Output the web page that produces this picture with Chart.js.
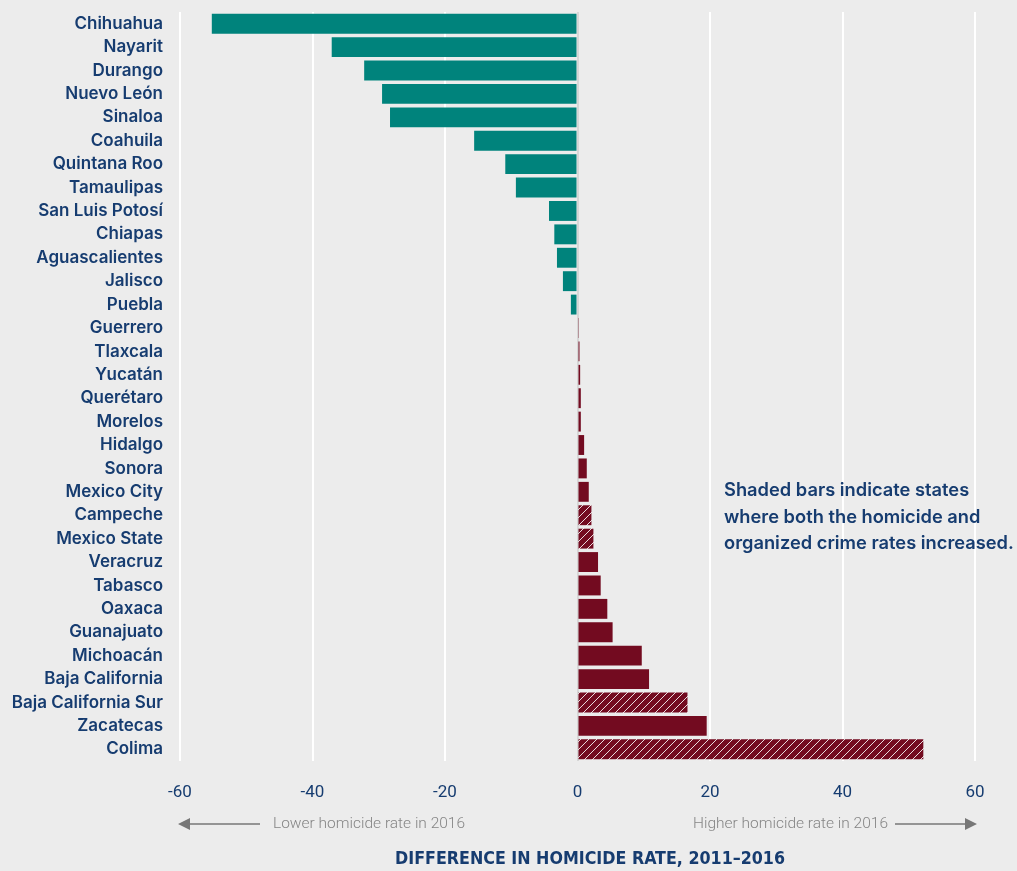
<!DOCTYPE html>
<html>
<head>
<meta charset="utf-8">
<script src="https://cdn.jsdelivr.net/npm/chart.js@4"></script>
<style>
  html, body { margin: 0; padding: 0; background: #ececec; }
  #wrap { width: 1017px; height: 871px; position: relative; }
</style>
</head>
<body>
<div id="wrap"><canvas id="chart"></canvas></div>
<script>
var states = [
  'Chihuahua', 'Nayarit', 'Durango', 'Nuevo León', 'Sinaloa', 'Coahuila',
  'Quintana Roo', 'Tamaulipas', 'San Luis Potosí', 'Chiapas', 'Aguascalientes',
  'Jalisco', 'Puebla', 'Guerrero', 'Tlaxcala', 'Yucatán', 'Querétaro',
  'Morelos', 'Hidalgo', 'Sonora', 'Mexico City', 'Campeche', 'Mexico State',
  'Veracruz', 'Tabasco', 'Oaxaca', 'Guanajuato', 'Michoacán', 'Baja California',
  'Baja California Sur', 'Zacatecas', 'Colima'
];
var diff = [
  -55.2, -37.1, -32.2, -29.5, -28.3, -15.6,
  -10.9, -9.3, -4.3, -3.5, -3.1,
  -2.2, -1.0, 0.2, 0.3, 0.4, 0.5,
  0.5, 1.0, 1.4, 1.7, 2.1, 2.4,
  3.1, 3.5, 4.5, 5.3, 9.7, 10.8,
  16.6, 19.5, 52.2
];
var shaded = ['Campeche', 'Mexico State', 'Baja California Sur', 'Colima'];
var xTicks = [-60, -40, -20, 0, 20, 40, 60];

var teal = '#00837c';
var red = '#730b20';
var navy = '#163c70';

function hatch() {
  var c = document.createElement('canvas');
  c.width = 8; c.height = 8;
  var g = c.getContext('2d');
  g.fillStyle = red;
  g.fillRect(0, 0, 8, 8);
  g.strokeStyle = 'rgba(255,255,255,0.85)';
  g.lineWidth = 1;
  g.beginPath();
  g.moveTo(-1, 9); g.lineTo(9, -1);
  g.moveTo(-1, 1); g.lineTo(1, -1);
  g.moveTo(7, 9); g.lineTo(9, 7);
  g.stroke();
  return g.createPattern(c, 'repeat');
}
var stripes = hatch();

var colors = states.map(function (s, i) {
  if (diff[i] < 0) return teal;
  return shaded.indexOf(s) >= 0 ? stripes : red;
});

var extras = {
  id: 'extras',
  afterDraw: function (chart) {
    var ctx = chart.ctx;
    var x = chart.scales.x;
    var left = x.getPixelForValue(-60);
    var right = x.getPixelForValue(60);
    var y = 824;
    ctx.save();
    ctx.strokeStyle = '#777777';
    ctx.fillStyle = '#777777';
    ctx.lineWidth = 1.5;
    ctx.beginPath();
    ctx.moveTo(left + 8, y); ctx.lineTo(left + 80, y);
    ctx.moveTo(right - 80, y); ctx.lineTo(right - 8, y);
    ctx.stroke();
    ctx.beginPath();
    ctx.moveTo(left - 2, y); ctx.lineTo(left + 10, y - 6); ctx.lineTo(left + 10, y + 6); ctx.closePath();
    ctx.moveTo(right + 2, y); ctx.lineTo(right - 10, y - 6); ctx.lineTo(right - 10, y + 6); ctx.closePath();
    ctx.fill();
    ctx.font = '300 15.5px Roboto';
    ctx.fillStyle = '#858585';
    ctx.textBaseline = 'middle';
    ctx.textAlign = 'left';
    ctx.fillText('Lower homicide rate in 2016', left + 93, y);
    ctx.textAlign = 'right';
    ctx.fillText('Higher homicide rate in 2016', right - 87, y);

    ctx.fillStyle = navy;
    ctx.textAlign = 'center';
    ctx.font = 'bold 17.7px "DejaVu Sans Condensed"';
    ctx.fillText('DIFFERENCE IN HOMICIDE RATE, 2011\u20132016', 590, 859);

    ctx.textAlign = 'left';
    ctx.font = '600 18.3px Inter';
    var notes = ['Shaded bars indicate states', 'where both the homicide and', 'organized crime rates increased.'];
    notes.forEach(function (t, i) {
      ctx.fillText(t, 724, 491 + i * 26.5);
    });
    ctx.restore();
  }
};

new Chart(document.getElementById('chart'), {
  type: 'bar',
  data: {
    labels: states,
    datasets: [{
      data: diff,
      backgroundColor: colors,
      barPercentage: 0.85,
      categoryPercentage: 1.0
    }]
  },
  options: {
    indexAxis: 'y',
    responsive: true,
    maintainAspectRatio: false,
    animation: false,
    layout: { padding: { top: 12, right: 42, bottom: 0, left: 0 } },
    plugins: {
      legend: { display: false },
      tooltip: { enabled: false }
    },
    scales: {
      x: {
        min: -60,
        max: 60,
        afterFit: function (s) { s.height = 110; s.paddingLeft = 0; s.paddingRight = 0; },
        afterBuildTicks: function (s) {
          s.ticks = xTicks.map(function (v) { return { value: v }; });
        },
        grid: {
          drawTicks: false,
          lineWidth: 2,
          color: function (c) { return c.tick && c.tick.value === 0 ? '#d6d6d6' : '#ffffff'; }
        },
        border: { display: false },
        ticks: {
          padding: 22,
          color: navy,
          font: { family: 'Roboto', size: 17 }
        }
      },
      y: {
        afterFit: function (s) { s.width = 180; s.paddingTop = 0; s.paddingBottom = 0; },
        grid: { display: false, drawTicks: false },
        border: { display: false },
        ticks: {
          padding: 17,
          autoSkip: false,
          color: navy,
          font: { family: 'Inter', size: 17, weight: '600' }
        }
      }
    }
  },
  plugins: [extras]
});
</script>
</body>
</html>
